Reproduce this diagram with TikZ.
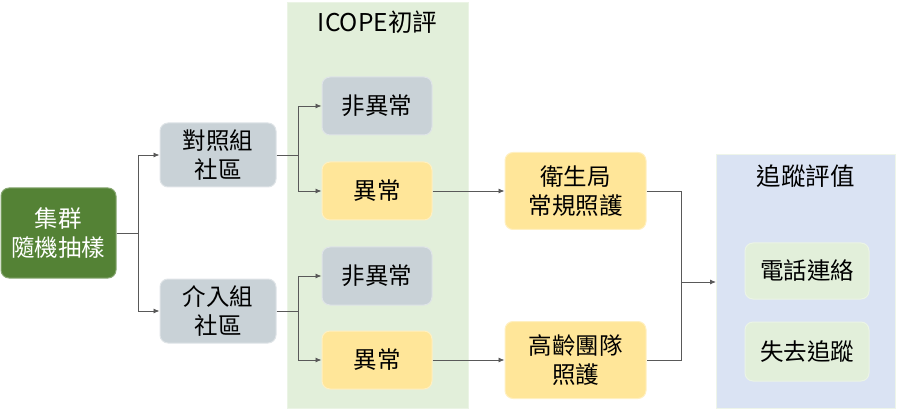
\documentclass[tikz,border=0pt]{standalone}
\usepackage{fontspec}
\setmainfont{Noto Sans CJK TC}
\usetikzlibrary{arrows.meta}
\definecolor{dgreen}{HTML}{548235}
\definecolor{grayb}{HTML}{C9D2D7}
\definecolor{yel}{HTML}{FFE699}
\definecolor{lgreen}{HTML}{E2EFDA}
\definecolor{lblue}{HTML}{DAE3F3}
\definecolor{lin}{HTML}{595959}
\tikzset{
  box/.style={rounded corners=8pt, line width=1pt, align=center, inner sep=0pt, font=\fontsize{23.5}{29.5}\selectfont, text=black},
  graybox/.style={box, fill=grayb, draw=grayb!60!white},
  yelbox/.style={box, fill=yel, draw=yel!60!white},
  greenbox/.style={box, fill=lgreen, draw=lgreen!70!white},
  panel/.style={line width=1pt},
  conn/.style={draw=lin, line width=0.8pt, -{Latex[length=6pt,width=5pt]}},
  plain/.style={draw=lin, line width=0.8pt},
  ttl/.style={font=\fontsize{24.5}{28}\selectfont, inner sep=0pt},
}
\begin{document}
\begin{tikzpicture}[x=1pt,y=-1pt]
\useasboundingbox (0,0) rectangle (898,409);
% panels
\fill[lgreen] (287,3) rectangle (468,408);
\draw[lgreen!70!white, panel] (287,3) rectangle (468,408);
\node[ttl] (t1) at (377.5,22) {ICOPE初評};
\fill[lblue] (716,155) rectangle (895,408);
\draw[lgreen!60!white, panel] (716,155) rectangle (895,408);
\node[ttl] (t2) at (805.5,176) {追蹤評值};
% nodes
\node[box, fill=dgreen, draw=dgreen!70!white, text=white, minimum width=115pt, minimum height=90pt] (src) at (58.5,233) {集群\\隨機抽樣};
\node[graybox, minimum width=116pt, minimum height=64pt] (ctl) at (218,155) {對照組\\社區};
\node[graybox, minimum width=116pt, minimum height=64pt] (itv) at (218,311) {介入組\\社區};
\node[graybox, minimum width=110pt, minimum height=58pt] (n1) at (377,106) {非異常};
\node[yelbox, minimum width=110pt, minimum height=58pt] (a1) at (377,191) {異常};
\node[graybox, minimum width=110pt, minimum height=58pt] (n2) at (377,276) {非異常};
\node[yelbox, minimum width=110pt, minimum height=58pt] (a2) at (377,360) {異常};
\node[yelbox, minimum width=141pt, minimum height=77pt] (hb) at (575.5,191) {衛生局\\常規照護};
\node[yelbox, minimum width=141pt, minimum height=77pt] (old) at (575.5,360) {高齡團隊\\照護};
\node[greenbox, minimum width=124pt, minimum height=56pt] (tel) at (807,271) {電話連絡};
\node[greenbox, minimum width=124pt, minimum height=59pt] (lost) at (807,351.5) {失去追蹤};
\coordinate (bl) at (716,282);
% connectors
\draw[conn] (src.east) -- ++(22,0) |- (ctl.west);
\draw[conn] (src.east) -- ++(22,0) |- (itv.west);
\draw[conn] (ctl.east) -- (298,155) |- (n1.west);
\draw[conn] (ctl.east) -- (298,155) |- (a1.west);
\draw[conn] (itv.east) -- (298,311) |- (n2.west);
\draw[conn] (itv.east) -- (298,311) |- (a2.west);
\draw[conn] (a1.east) -- (hb.west);
\draw[conn] (a2.east) -- (old.west);
\draw[plain] (hb.east) -- (681,191) -- (681,360) -- (old.east);
\draw[conn] (681,282) -- (bl);
\end{tikzpicture}
\end{document}
